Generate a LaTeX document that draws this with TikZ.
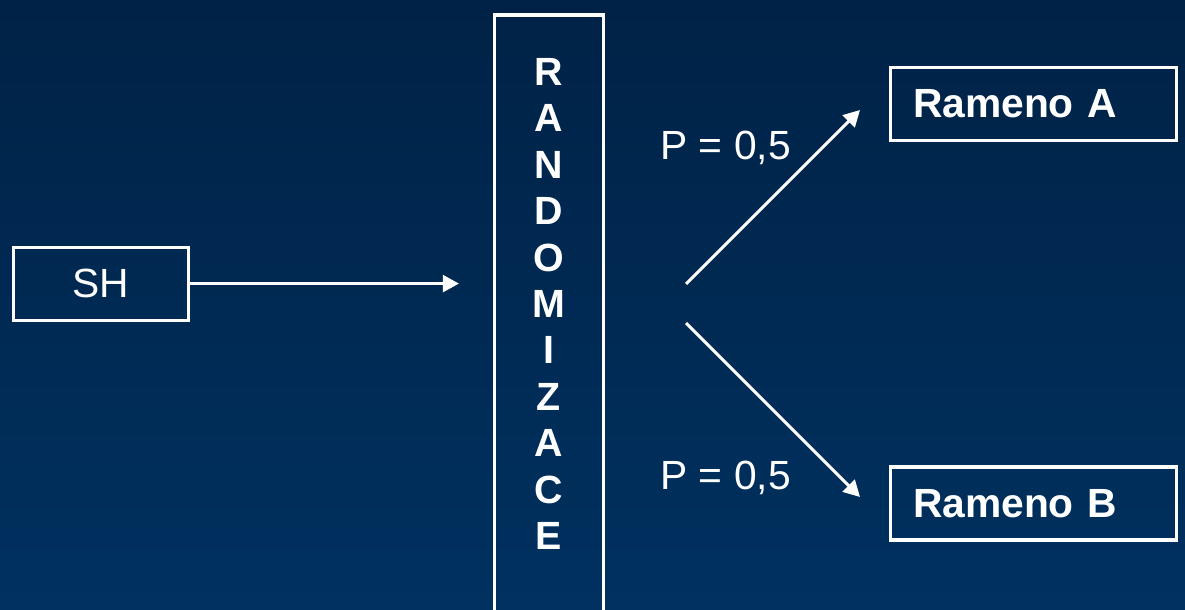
\documentclass[tikz,border=0pt]{standalone}
\usepackage{fontspec}
\setmainfont{Liberation Sans}
\usepackage{tikz}
\usetikzlibrary{positioning}
\usetikzlibrary{arrows.meta,calc}
\definecolor{slidetop}{RGB}{0,34,70}
\definecolor{slidebottom}{RGB}{0,49,96}
\tikzstyle{process} = [rectangle, draw=white, line width=2.2pt, text=white, font=\fontsize{29}{34}\selectfont, minimum height=1.825cm, text centered]
\tikzstyle{arm} = [process, font=\bfseries\fontsize{29}{34}\selectfont, minimum width=7.15cm, text width=6.025cm, inner xsep=0.5625cm, align=left]
\tikzstyle{prob} = [text=white, font=\fontsize{29}{34}\selectfont, anchor=base]
\tikzstyle{arrow} = [white, line width=2.2pt, -{Triangle[length=11.5pt,width=12pt]}]

\begin{document}
\begin{tikzpicture}
\fill [top color=slidetop, bottom color=slidebottom] (0,0) rectangle (29.625,15.25);
\useasboundingbox (0,0) rectangle (29.625,15.25);

\node (SH) [process, minimum width=4.375cm] at (2.525,8.16) {SH};
\node (rand) [process, minimum width=2.725cm, minimum height=16cm, anchor=north] at (13.725,14.9125) {};
\node (letters) [text=white, font=\bfseries\fontsize{28}{33}\selectfont, align=center] at (13.725,7.65) {R\\A\\N\\D\\O\\M\\I\\Z\\A\\C\\E};
\node (ramA) [arm] at (25.8375,12.65) {Rameno A};
\node (ramB) [arm] at (25.8375,2.6625) {Rameno B};

\node (pA) [prob] at (18.14,11.25) {P = 0,5};
\node (pB) [prob] at (18.14,3.0) {P = 0,5};

\coordinate (forkA) at (17.15,8.15);
\coordinate (tipA) at (21.5,12.5);
\coordinate (forkB) at (17.15,7.175);
\coordinate (tipB) at (21.5,2.825);

\draw [arrow] (SH.east) -- ($(SH.east -| rand.west)+(-0.85,0)$);
\draw [arrow] (forkA) -- (tipA);
\draw [arrow] (forkB) -- (tipB);
\end{tikzpicture}
\end{document}
